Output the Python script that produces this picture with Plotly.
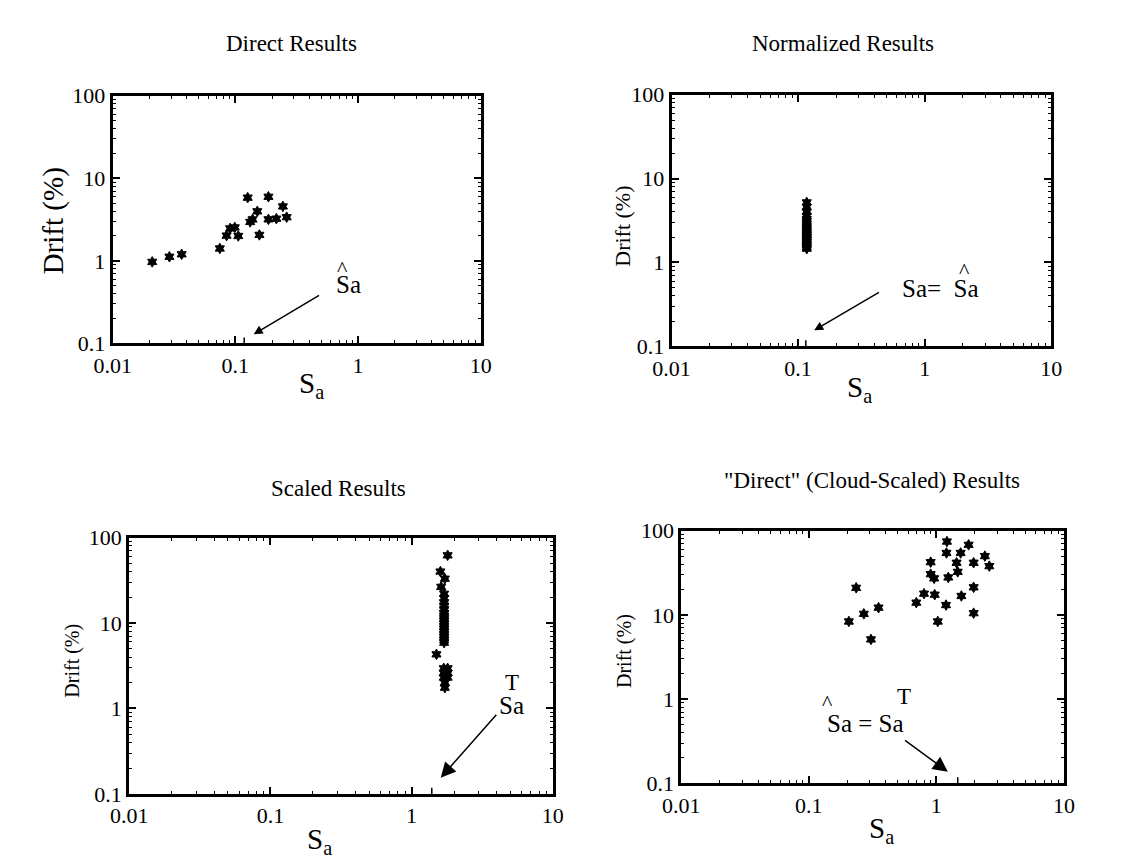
import math
import plotly.graph_objects as go

W, H = 1138, 864
SERIF = "Liberation Serif"

# ---------------- data ----------------
direct_sa = [0.021, 0.029, 0.0365, 0.0747, 0.0848, 0.0906, 0.0989, 0.1056, 0.126,
             0.132, 0.138, 0.151, 0.157, 0.186, 0.186, 0.216, 0.244, 0.262]
direct_drift = [0.97, 1.12, 1.20, 1.41, 2.02, 2.47, 2.54, 2.00, 5.82,
                2.96, 3.17, 3.98, 2.06, 5.97, 3.18, 3.24, 4.56, 3.38]

norm_sa = [0.117, 0.117, 0.117, 0.117, 0.117, 0.117, 0.117, 0.117, 0.117, 0.117, 0.117,
           0.117, 0.117, 0.117, 0.117, 0.117, 0.117, 0.117, 0.117, 0.117, 0.117]
norm_drift = [5.2, 4.6, 4.0, 3.6, 3.3, 3.05, 2.85, 2.7, 2.55, 2.42, 2.3,
              2.2, 2.1, 2.0, 1.92, 1.84, 1.76, 1.68, 1.6, 1.52, 1.46]

scaled_sa = [1.80, 1.60, 1.72, 1.62, 1.70, 1.70, 1.70, 1.70, 1.70, 1.70, 1.70, 1.70,
             1.70, 1.70, 1.70, 1.70, 1.70, 1.70, 1.70, 1.70, 1.70, 1.50, 1.69, 1.80,
             1.69, 1.80, 1.69, 1.80, 1.72, 1.72]
scaled_drift = [62, 40, 33, 26.5, 22, 19.5, 17.5, 16, 14.5, 13.2, 12.2, 11.3,
                10.5, 9.8, 9.1, 8.5, 7.9, 7.3, 6.8, 6.3, 5.9, 4.3, 2.95, 2.95,
                2.6, 2.6, 2.3, 2.3, 2.0, 1.75]

cloud_sa = [0.206, 0.235, 0.270, 0.307, 0.352, 0.696, 0.80, 0.902, 0.902, 0.96,
            0.97, 1.026, 1.19, 1.21, 1.20, 1.24, 1.44, 1.47, 1.55, 1.57, 1.79,
            1.96, 1.96, 1.96, 2.4, 2.6]
cloud_drift = [8.36, 21.0, 10.3, 5.12, 12.2, 14.0, 17.9, 42.4, 30.5, 27.2,
               17.4, 8.36, 13.1, 74.5, 54.5, 27.9, 41.7, 32.5, 54.5, 16.8, 68.1,
               41.7, 21.3, 10.5, 50, 38]

x_tickvals = [0.01, 0.1, 1, 10]
x_ticktext = ["0.01", "0.1", "1", "10"]
y_tickvals = [0.1, 1, 10, 100]
y_ticktext = ["0.1", "1", "10", "100"]

# reference marks on the Sa axis (Sa-hat / Sa-target)
mark_tl, mark_tr, mark_bl, mark_br = 0.118, 0.115, 1.39, 1.47

# ---------------- layout helpers ----------------
def px(x):
    return x / W

def py(y):
    return 1 - y / H

boxes = {  # left, right, top, bottom in pixels
    1: (88, 466, 78, 333),
    2: (662, 1052, 77, 336),
    3: (105, 540, 533, 797),
    4: (672, 1065, 526, 786),
}

fig = go.Figure()

series = [(direct_sa, direct_drift), (norm_sa, norm_drift),
          (scaled_sa, scaled_drift), (cloud_sa, cloud_drift)]
marks = [mark_tl, mark_tr, mark_bl, mark_br]

for i, (xs, ys) in enumerate(series, start=1):
    xa = "x" if i == 1 else f"x{i}"
    ya = "y" if i == 1 else f"y{i}"
    fig.add_trace(go.Scatter(x=xs, y=ys, mode="markers", xaxis=xa, yaxis=ya,
                             marker=dict(symbol="hexagram", size=8, color="black",
                                         line=dict(color="black", width=1)),
                             showlegend=False, hoverinfo="skip"))
    m = marks[i - 1]
    fig.add_trace(go.Scatter(x=[m, m], y=[0.1, 0.118], mode="lines", xaxis=xa, yaxis=ya,
                             line=dict(color="black", width=1.5),
                             showlegend=False, hoverinfo="skip"))

def axis(dom, rng, tv, tt, anchor, fsize):
    return dict(type="log", domain=dom, range=rng, tickmode="array", tickvals=tv,
                ticktext=tt, ticks="inside", ticklen=7, tickwidth=2, tickcolor="black",
                showline=True, linewidth=3, linecolor="black", mirror="ticks",
                showgrid=False, zeroline=False, anchor=anchor,
                tickfont=dict(family=SERIF, size=fsize, color="black"),
                minor=dict(ticks="inside", ticklen=3, tickwidth=1, tickcolor="black",
                           dtick="D1", showgrid=False))

lay = {}
for i, (l, r, t, b) in boxes.items():
    xk = "xaxis" if i == 1 else f"xaxis{i}"
    yk = "yaxis" if i == 1 else f"yaxis{i}"
    xa = "x" if i == 1 else f"x{i}"
    ya = "y" if i == 1 else f"y{i}"
    lay[xk] = axis([px(l), px(r)], [-2, 1], x_tickvals, x_ticktext, ya, 22)
    lay[yk] = axis([py(b), py(t)], [-1, 2], y_tickvals, y_ticktext, xa, 22)

fig.update_layout(width=W, height=H, margin=dict(l=0, r=0, t=0, b=0),
                  paper_bgcolor="white", plot_bgcolor="white", **lay)

ann = []

def ptext(x, y, text, size, angle=0):
    ann.append(dict(x=px(x), y=py(y), xref="paper", yref="paper", text=text,
                    xanchor="center", yanchor="middle",
                    showarrow=False, textangle=angle,
                    font=dict(family=SERIF, size=size, color="black")))

def dtext(i, xv, yv, text, size):
    xa = "x" if i == 1 else f"x{i}"
    ya = "y" if i == 1 else f"y{i}"
    ann.append(dict(x=math.log10(xv), y=math.log10(yv), xref=xa, yref=ya, text=text,
                    xanchor="center", yanchor="middle",
                    showarrow=False, font=dict(family=SERIF, size=size, color="black")))

def arrow(i, x0, y0, x1, y1, size=1.2, width=1.5):
    xa = "x" if i == 1 else f"x{i}"
    ya = "y" if i == 1 else f"y{i}"
    ann.append(dict(x=math.log10(x1), y=math.log10(y1), ax=math.log10(x0),
                    ay=math.log10(y0), xref=xa, yref=ya, axref=xa, ayref=ya,
                    text="", showarrow=True, arrowhead=2, arrowsize=size,
                    arrowwidth=width, arrowcolor="black"))

# titles
ptext(272, 24, "Direct Results", 23)
ptext(838, 24, "Normalized Results", 23)
ptext(320, 482, "Scaled Results", 23)
ptext(868, 474, "\"Direct\" (Cloud-Scaled) Results", 23)

# y titles
ptext(27, 207, "Drift (%)", 29, -90)
ptext(612, 212, "Drift (%)", 22, -90)
ptext(47, 660, "Drift (%)", 20, -90)
ptext(613, 650, "Drift (%)", 20, -90)

# x titles
ptext(292, 376, "S<sub>a</sub>", 29)
ptext(855, 380, "S<sub>a</sub>", 29)
ptext(300, 845, "S<sub>a</sub>", 29)
ptext(878, 834, "S<sub>a</sub>", 29)

# panel 1 annotation
dtext(1, 0.83, 0.52, "Sa", 25)
dtext(1, 0.745, 0.8, "^", 22)
arrow(1, 0.495, 0.39, 0.141, 0.129)

# panel 2 annotation
dtext(2, 1.34, 0.49, "Sa=  Sa", 25)
dtext(2, 2.05, 0.8, "^", 22)
arrow(2, 0.447, 0.45, 0.134, 0.155)

# panel 3 annotation
dtext(3, 5.13, 2.0, "T", 23)
dtext(3, 5.13, 1.07, "Sa", 25)
arrow(3, 4.07, 0.88, 1.61, 0.155, size=2, width=1.5)

# panel 4 annotation
dtext(4, 0.278, 0.51, "Sa = Sa", 25)
dtext(4, 0.553, 1.08, "T", 23)
dtext(4, 0.14, 0.9, "^", 22)
arrow(4, 0.553, 0.333, 1.23, 0.137, size=2, width=1.5)

fig.update_layout(annotations=ann)
fig.write_html("out.html")
